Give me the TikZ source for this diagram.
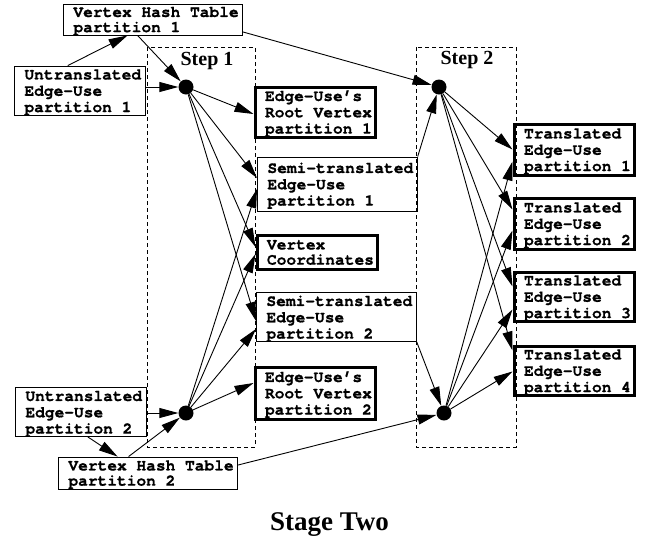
\documentclass[tikz,border=0pt]{standalone}
\usepackage{fontspec}
\setmainfont{Liberation Serif}
\newfontfamily\codefont{TeX Gyre Cursor}[BoldFeatures={FakeBold=0.8}]
\usetikzlibrary{arrows.meta,calc}
% left-aligned multi-line label, a little extra room on the left, optically centred
\newcommand{\boxlines}[1]{\hspace*{6pt}\raisebox{-2pt}[\height][\depth]{\begin{tabular}{@{}l@{}}#1\end{tabular}}}
\tikzset{
  plainbox/.style={draw, line width=0.9pt, anchor=west, inner xsep=4pt, inner ysep=0pt,
    font=\codefont\bfseries\fontsize{16.2}{16.3}\selectfont},
  boldbox/.style={plainbox, line width=3pt},
  twoline/.style={font=\codefont\bfseries\fontsize{16.2}{15.2}\selectfont},
  hub/.style={circle, fill, inner sep=0pt, minimum size=15pt},
  link/.style={line width=0.9pt, -{Triangle[length=19pt,width=10pt]}},
  stepframe/.style={line width=0.9pt, dash pattern=on 4pt off 3pt},
  steptitle/.style={font=\bfseries\fontsize{20}{24}\selectfont, anchor=base, inner sep=0pt},
}
\begin{document}
\begin{tikzpicture}[x=1pt,y=-1pt]
\useasboundingbox (0,0) rectangle (649,539);

% step frames
\draw[stepframe] (147,47) rectangle (255,447);
\draw[stepframe] (416,47) rectangle (516,447);
\node[steptitle] (s1) at (207,65) {Step 1};
\node[steptitle] (s2) at (467,64) {Step 2};

% inputs
\node[plainbox, twoline, minimum height=31pt] (vht1) at (63,19.5) {\boxlines{Vertex Hash Table\\partition 1}};
\node[plainbox, minimum height=49pt] (ueu1) at (14,90.5) {\boxlines{Untranslated\\Edge-Use\\partition 1}};
\node[plainbox, minimum height=46pt] (ueu2) at (15,412) {\boxlines{Untranslated\\Edge-Use\\partition 2}};
\node[plainbox, twoline, minimum height=32pt] (vht2) at (58,473) {\boxlines{Vertex Hash Table\\partition 2}};

% step 1 results
\node[boldbox, minimum height=50pt] (er1) at (253.5,112) {\boxlines{Edge-Use’s\\Root Vertex\\partition 1}};
\node[plainbox, minimum height=54pt] (st1) at (257,184) {\boxlines{Semi-translated\\Edge-Use\\partition 1}};
\node[boldbox, twoline, minimum height=34pt] (vc) at (255.5,252) {\boxlines{Vertex\\Coordinates}};
\node[plainbox, minimum height=48pt] (st2) at (256,317) {\boxlines{Semi-translated\\Edge-Use\\partition 2}};
\node[boldbox, minimum height=52pt] (er2) at (253.5,393) {\boxlines{Edge-Use’s\\Root Vertex\\partition 2}};

% step 2 results
\node[boldbox, minimum height=51pt] (teu1) at (512.5,149.5) {\boxlines{Translated\\Edge-Use\\partition 1}};
\node[boldbox, minimum height=51pt] (teu2) at (512.5,223.5) {\boxlines{Translated\\Edge-Use\\partition 2}};
\node[boldbox, minimum height=49pt] (teu3) at (512.5,296.5) {\boxlines{Translated\\Edge-Use\\partition 3}};
\node[boldbox, minimum height=49pt] (teu4) at (512.5,370.5) {\boxlines{Translated\\Edge-Use\\partition 4}};

% processing points
\node[hub] (d1) at (186,87) {};
\node[hub] (d2) at (186,413) {};
\node[hub] (d3) at (439,87) {};
\node[hub] (d4) at (444,413) {};

% step 1 inputs
\draw[link] ($(ueu1.north)+(-12,0)$) -- ($(vht1.south)+(-25.5,0)$);
\draw[link] ($(vht1.south)+(-15.5,0)$) -- (d1);
\draw[link] (ueu1.east |- d1) -- (d1);
\draw[link] ($(ueu2.south)+(7,0)$) -- ($(vht2.north)+(-30.5,0)$);
\draw[link] ($(vht2.north)+(-19.5,0)$) -- (d2);
\draw[link] (ueu2.east |- d2) -- (d2);

% step 1 outputs
\draw[link] (d1) -- ($(er1.west)+(0,2)$);
\draw[link] (d1) -- ($(st1.west)+(0,-6)$);
\draw[link] (d1) -- ($(vc.west)+(0,-5)$);
\draw[link] (d1) -- ($(st2.west)+(0,4)$);
\draw[link] (d2) -- ($(st1.west)+(0,5)$);
\draw[link] (d2) -- ($(vc.west)+(0,2)$);
\draw[link] (d2) -- ($(st2.west)+(0,12)$);
\draw[link] (d2) -- ($(er2.west)+(0,-10)$);

% step 2 inputs
\draw[link] ($(vht1.east)+(0,12.5)$) -- (d3);
\draw[link] (st1.north east) -- (d3);
\draw[link] (st2.south east) -- (d4);
\draw[link] ($(vht2.east)+(0,-8)$) -- (d4);

% step 2 outputs
\draw[link] (d3) -- (teu1.west);
\draw[link] (d3) -- ($(teu2.west)+(0,-14)$);
\draw[link] (d3) -- ($(teu3.west)+(0,-10)$);
\draw[link] (d3) -- ($(teu4.west)+(0,-20)$);
\draw[link] (d4) -- ($(teu1.west)+(0,12)$);
\draw[link] (d4) -- ($(teu2.west)+(0,7)$);
\draw[link] (d4) -- ($(teu3.west)+(0,13)$);
\draw[link] (d4) -- ($(teu4.west)+(0,1)$);

\node[font=\bfseries\fontsize{27}{32}\selectfont, anchor=base, inner sep=0pt] (stage) at (329.5,530) {Stage Two};
\end{tikzpicture}
\end{document}
